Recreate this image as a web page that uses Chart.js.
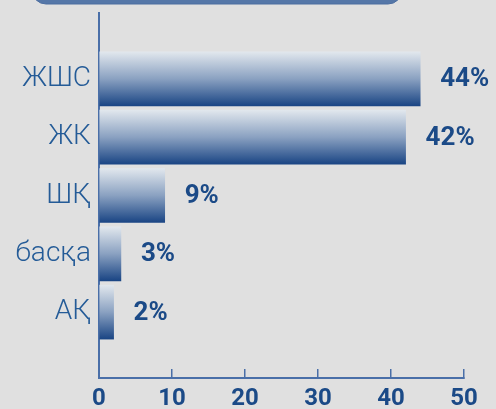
<!DOCTYPE html>
<html>
<head>
<meta charset="utf-8">
<script src="https://cdn.jsdelivr.net/npm/chart.js@4/dist/chart.umd.min.js"></script>
<style>
  html, body { margin: 0; padding: 0; background: #e0e0e0; }
  #wrap { width: 496px; height: 409px; position: relative; }
</style>
</head>
<body>
<div id="wrap"><canvas id="c" width="496" height="409"></canvas></div>
<script>
const categories = ['ЖШС', 'ЖК', 'ШҚ', 'басқа', 'АҚ'];
const values = [44, 42, 9, 3, 2];
const valueLabels = ['44%', '42%', '9%', '3%', '2%'];
const xTicks = [0, 10, 20, 30, 40, 50];

const axisBlue = '#4a6fa8';
const darkBlue = '#1b4a87';
const labelBlue = '#245b97';
const BAR_T = 54;

const decoPlugin = {
  id: 'deco',
  beforeDraw(chart) {
    const ctx = chart.ctx;
    ctx.save();
    ctx.fillStyle = '#5577a8';
    ctx.strokeStyle = '#4d6ea0';
    ctx.lineWidth = 1;
    ctx.beginPath();
    ctx.roundRect(32, -30, 370, 34, 14);
    ctx.fill();
    ctx.stroke();
    ctx.restore();
  },
  afterDatasetsDraw(chart) {
    const ctx = chart.ctx;
    const meta = chart.getDatasetMeta(0);
    ctx.save();
    ctx.font = 'bold 26px Roboto';
    ctx.fillStyle = darkBlue;
    ctx.textAlign = 'left';
    ctx.textBaseline = 'middle';
    meta.data.forEach((bar, i) => {
      ctx.fillText(valueLabels[i], bar.x + 20, bar.y + 1);
    });
    ctx.restore();
  }
};

function barGradient(c) {
  const chart = c.chart;
  const ys = chart.scales && chart.scales.y;
  if (!ys || c.dataIndex === undefined) return darkBlue;
  const cy = ys.getPixelForValue(c.dataIndex);
  const top = cy - BAR_T / 2;
  if (!isFinite(top)) return darkBlue;
  const g = chart.ctx.createLinearGradient(0, top, 0, top + BAR_T);
  g.addColorStop(0, '#e1e7ed');
  g.addColorStop(0.5, '#8aa1c1');
  g.addColorStop(1, '#1a4584');
  return g;
}

new Chart(document.getElementById('c'), {
  type: 'bar',
  data: {
    datasets: [{
      data: values.map((v, i) => ({ x: v, y: i })),
      backgroundColor: barGradient,
      borderWidth: 0,
      barThickness: BAR_T
    }]
  },
  options: {
    indexAxis: 'y',
    responsive: false,
    animation: false,
    events: [],
    layout: { padding: { top: 13, right: 32, left: 0, bottom: 0 } },
    plugins: { legend: { display: false }, tooltip: { enabled: false } },
    scales: {
      x: {
        type: 'linear',
        min: 0, max: 50,
        afterBuildTicks: s => { s.ticks = xTicks.map(v => ({ value: v })); },
        afterFit: s => { s.height = 31; s.paddingLeft = 0; s.paddingRight = 0; },
        grid: { display: true, drawOnChartArea: false, drawTicks: true, tickLength: -9, color: axisBlue, lineWidth: 1.5 },
        border: { display: true, color: axisBlue, width: 2 },
        ticks: { color: darkBlue, font: { family: 'Roboto', weight: 'bold', size: 24 }, padding: 16 }
      },
      y: {
        type: 'linear',
        reverse: true,
        offset: false,
        min: -1.13, max: 5.13,
        afterBuildTicks: s => { s.ticks = categories.map((c, i) => ({ value: i })); },
        afterFit: s => { s.width = 99; s.paddingTop = 0; s.paddingBottom = 0; },
        grid: { display: false, drawTicks: false },
        border: { display: true, color: axisBlue, width: 2 },
        ticks: {
          color: labelBlue,
          font: { family: 'Roboto', weight: '300', size: 28 },
          padding: 8,
          callback: v => categories[v]
        }
      }
    }
  },
  plugins: [decoPlugin]
});
</script>
</body>
</html>
